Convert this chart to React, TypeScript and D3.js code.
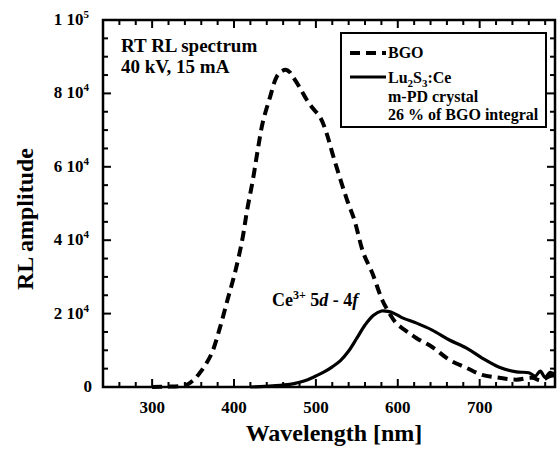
import React from 'react';
import * as d3 from 'd3';

// BGO reference spectrum (dashed)
const bgoWavelength = [300, 320, 335, 342, 350, 358, 365, 373, 383, 392, 401, 410, 416, 423, 429, 435, 444, 452, 458, 464, 468, 472, 480, 489, 496, 505, 513, 520, 529, 538, 547, 558, 569, 581, 590, 598, 610, 623, 642, 663, 684, 703, 724, 745, 764, 775, 785, 792];
const bgoAmplitude = [0, 100, 300, 600, 1800, 3800, 6000, 9300, 16300, 23700, 31000, 40000, 48200, 56400, 64600, 72000, 79000, 84500, 86000, 86400, 85800, 84500, 81700, 78200, 76000, 73600, 69200, 63800, 57200, 51000, 45500, 36500, 31000, 23700, 20000, 17400, 15300, 13300, 10900, 7400, 5200, 3300, 2500, 2000, 2500, 1800, 2900, 3200];

// Lu2S3:Ce m-PD crystal (solid)
const luWavelength = [420, 447, 468, 480, 490, 500, 510, 520, 530, 540, 550, 560, 570, 580, 588, 596, 605, 623, 642, 663, 684, 703, 724, 745, 760, 768, 774, 780, 786, 792];
const luAmplitude = [0, 300, 700, 1300, 2000, 3000, 4100, 5500, 7200, 9800, 13300, 16900, 19500, 20700, 20600, 20000, 18900, 17400, 15500, 12800, 10600, 7900, 5400, 4100, 3900, 3000, 4300, 2600, 4000, 3300];

const xMajorTicks = [300, 400, 500, 600, 700];
const yMajorTicks = [0, 20000, 40000, 60000, 80000, 100000];

const legendLabels = ['BGO', 'Lu2S3:Ce', 'm-PD crystal', '26 % of BGO integral'];
const infoLines = ['RT RL spectrum', '40 kV, 15 mA'];

const FONT = 'Liberation Serif, Times New Roman, serif';

export default function App() {
  const left = 103, right = 555, top = 20, bottom = 387;
  const x = d3.scaleLinear().domain([240, 792]).range([left, right]);
  const y = d3.scaleLinear().domain([0, 100000]).range([bottom, top]);

  const xMinor = d3.range(240, 793, 20).filter(v => !xMajorTicks.includes(v));
  const yMinor = d3.range(0, 100001, 5000).filter(v => !yMajorTicks.includes(v));

  const line = d3.line<[number, number]>()
    .x(d => x(d[0]))
    .y(d => y(d[1]))
    .curve(d3.curveCatmullRom.alpha(0.5));

  const bgoPath = line(bgoWavelength.map((w, i) => [w, bgoAmplitude[i]]) as [number, number][]) || '';
  const luPath = line(luWavelength.map((w, i) => [w, luAmplitude[i]]) as [number, number][]) || '';

  const major = 8, minor = 5;

  const yLabel = (v: number) => {
    if (v === 0) return <tspan>0</tspan>;
    const e = Math.floor(Math.log10(v));
    const m = Math.round(v / Math.pow(10, e));
    return (
      <>
        <tspan>{`${m} 10`}</tspan>
        <tspan dy={-7} fontSize={11}>{e}</tspan>
      </>
    );
  };

  return (
    <svg width={560} height={450} style={{ position: 'absolute', left: 0, top: 0, background: '#fff', fontFamily: FONT, fontWeight: 'bold' }}>
      <rect x={0} y={0} width={560} height={450} fill="#fff" />

      {/* ticks */}
      <g stroke="#000" strokeWidth={2}>
        {xMajorTicks.map(v => (
          <g key={'xm' + v}>
            <line x1={x(v)} x2={x(v)} y1={bottom} y2={bottom - major} />
            <line x1={x(v)} x2={x(v)} y1={top} y2={top + major} />
          </g>
        ))}
        {xMinor.map(v => (
          <g key={'xn' + v}>
            <line x1={x(v)} x2={x(v)} y1={bottom} y2={bottom - minor} />
            <line x1={x(v)} x2={x(v)} y1={top} y2={top + minor} />
          </g>
        ))}
        {yMajorTicks.map(v => (
          <g key={'ym' + v}>
            <line x1={left} x2={left + major} y1={y(v)} y2={y(v)} />
            <line x1={right} x2={right - major} y1={y(v)} y2={y(v)} />
          </g>
        ))}
        {yMinor.map(v => (
          <g key={'yn' + v}>
            <line x1={left} x2={left + minor} y1={y(v)} y2={y(v)} />
            <line x1={right} x2={right - minor} y1={y(v)} y2={y(v)} />
          </g>
        ))}
      </g>

      {/* curves */}
      <path d={luPath} fill="none" stroke="#000" strokeWidth={3.2} strokeLinejoin="round" />
      <path d={bgoPath} fill="none" stroke="#000" strokeWidth={4} strokeDasharray="10 6" />

      {/* frame */}
      <rect x={left} y={top} width={right - left} height={bottom - top} fill="none" stroke="#000" strokeWidth={2.5} />

      {/* tick labels */}
      {xMajorTicks.map(v => (
        <text key={'xl' + v} x={x(v)} y={413} textAnchor="middle" fontSize={17}>{v}</text>
      ))}
      {yMajorTicks.map(v => (
        <text key={'yl' + v} x={v === 0 ? 92 : 89} y={y(v) + 5} textAnchor="end" fontSize={17}>{yLabel(v)}</text>
      ))}

      {/* axis titles */}
      <text x={334} y={441} textAnchor="middle" fontSize={24}>Wavelength [nm]</text>
      <text transform="translate(33,219) rotate(-90)" textAnchor="middle" fontSize={24}>RL amplitude</text>

      {/* info text */}
      {infoLines.map((t, i) => (
        <text key={t} x={121} y={52 + i * 21} fontSize={19}>{t}</text>
      ))}

      {/* annotation */}
      <text x={272} y={306} fontSize={18}>
        Ce<tspan dy={-7} fontSize={12}>3+</tspan>
        <tspan dy={7}> 5</tspan><tspan fontStyle="italic">d</tspan>
        <tspan> - 4</tspan><tspan fontStyle="italic">f</tspan>
      </text>

      {/* legend */}
      <rect x={341} y={33} width={205} height={94} fill="#fff" stroke="#000" strokeWidth={2} />
      <line x1={350} x2={386} y1={53} y2={53} stroke="#000" strokeWidth={4} strokeDasharray="10 6" />
      <text x={388} y={58} fontSize={16}>{legendLabels[0]}</text>
      <line x1={350} x2={386} y1={77} y2={77} stroke="#000" strokeWidth={3.2} />
      <text x={388} y={83} fontSize={16}>
        Lu<tspan dy={4} fontSize={11}>2</tspan><tspan dy={-4}>S</tspan>
        <tspan dy={4} fontSize={11}>3</tspan><tspan dy={-4}>:Ce</tspan>
      </text>
      <text x={388} y={102} fontSize={16}>{legendLabels[2]}</text>
      <text x={388} y={120} fontSize={16}>{legendLabels[3]}</text>
    </svg>
  );
}
